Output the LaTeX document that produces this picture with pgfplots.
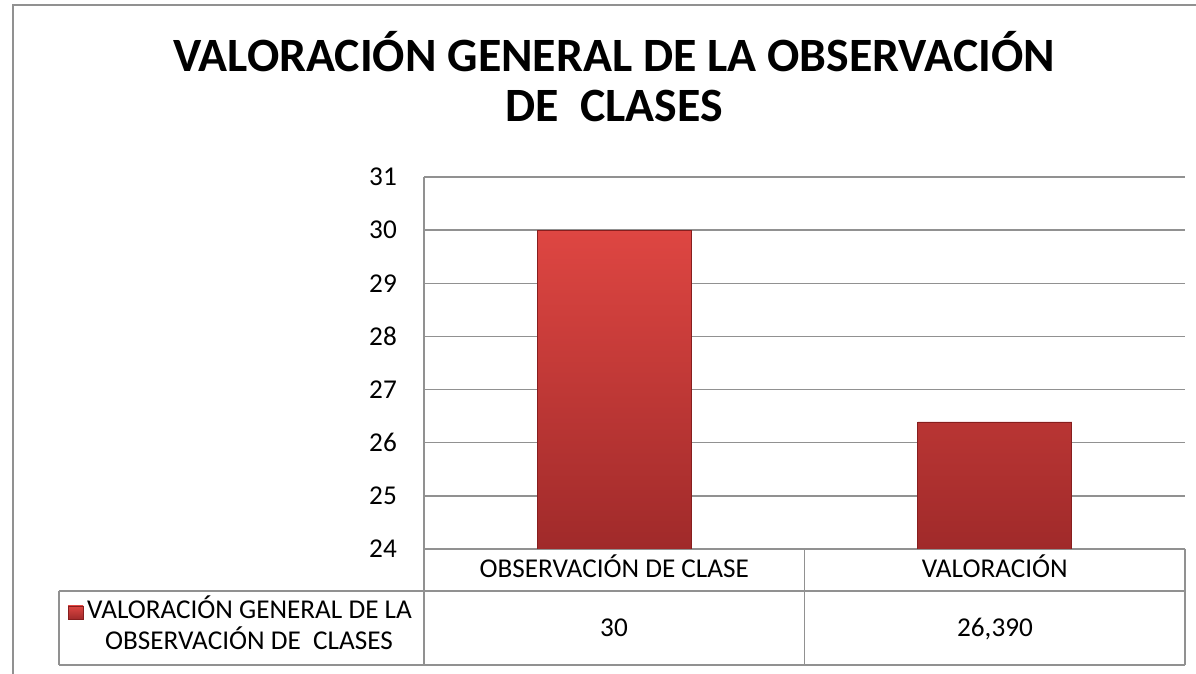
\documentclass[border=0pt]{standalone}
\usepackage{pgfplots}
\pgfplotsset{compat=1.18}
\usepackage{fontspec}
\setmainfont{Carlito}
\definecolor{gridgray}{RGB}{145,145,145}
\definecolor{bartop}{RGB}{222,70,66}
\definecolor{barbot}{RGB}{160,42,42}
\definecolor{baredge}{RGB}{135,30,30}
\newcommand{\smallfont}{\fontsize{27.3}{32}\selectfont}
\newcommand{\titlefont}{\fontsize{48}{56}\selectfont\bfseries}
\begin{document}
\begin{tikzpicture}[x=1bp,y=1bp]
\useasboundingbox (0,0) rectangle (1196,674);
\fill[white] (0,0) rectangle (1196,674);
\draw[gridgray, line width=1.5bp] (13,-2) -- (13,669) -- (1198,669);
\node[anchor=base, inner sep=0pt, font=\titlefont] at (614,602) {VALORACIÓN GENERAL DE LA OBSERVACIÓN};
\node[anchor=base, inner sep=0pt, font=\titlefont] at (614,552) {DE\ \ CLASES};
\begin{axis}[
  at={(424bp,125bp)}, anchor=south west,
  scale only axis, width=761bp, height=372bp,
  xmin=-0.5, xmax=1.5, ymin=24, ymax=31,
  ytick={24,25,...,31},
  xtick={0,1}, xticklabels={OBSERVACIÓN DE CLASE, VALORACIÓN},
  axis lines*=left,
  major tick length=0pt,
  ymajorgrids, grid style={gridgray, line width=1.5bp},
  axis line style={gridgray, line width=1.5bp},
  /pgf/number format/assume math mode=true,
  yticklabel style={font=\smallfont, anchor=east, inner sep=0pt, xshift=-27bp},
  xticklabel style={font=\smallfont, anchor=base, inner sep=0pt, yshift=-29bp},
]
\addplot[ybar, bar width=154bp, draw=baredge, line width=0.8bp, top color=bartop, bottom color=barbot]
  coordinates {(0,30) (1,26.39)};
\end{axis}
% data table
\draw[gridgray, line width=1.5bp] (59,83) -- (1185,83);
\draw[gridgray, line width=1.5bp] (59,9) -- (1185,9);
\draw[gridgray, line width=1.5bp] (59,83) -- (59,9);
\draw[gridgray, line width=1.5bp] (424,125) -- (424,9);
\draw[gridgray, line width=1.5bp] (804.5,125) -- (804.5,9);
\draw[gridgray, line width=1.5bp] (1185,125) -- (1185,9);
\node[anchor=base, inner sep=0pt, font=\smallfont] at (614,37) {30};
\node[anchor=base, inner sep=0pt, font=\smallfont] at (995,37) {26,390};
\node[anchor=base, inner sep=0pt, font=\smallfont] at (249.5,55) {VALORACIÓN GENERAL DE LA};
\node[anchor=base, inner sep=0pt, font=\smallfont] at (249,24) {OBSERVACIÓN DE\ \ CLASES};
\shade[top color=bartop, bottom color=barbot, draw=baredge, line width=0.6bp] (68,55) rectangle (83,68);
\end{tikzpicture}
\end{document}
